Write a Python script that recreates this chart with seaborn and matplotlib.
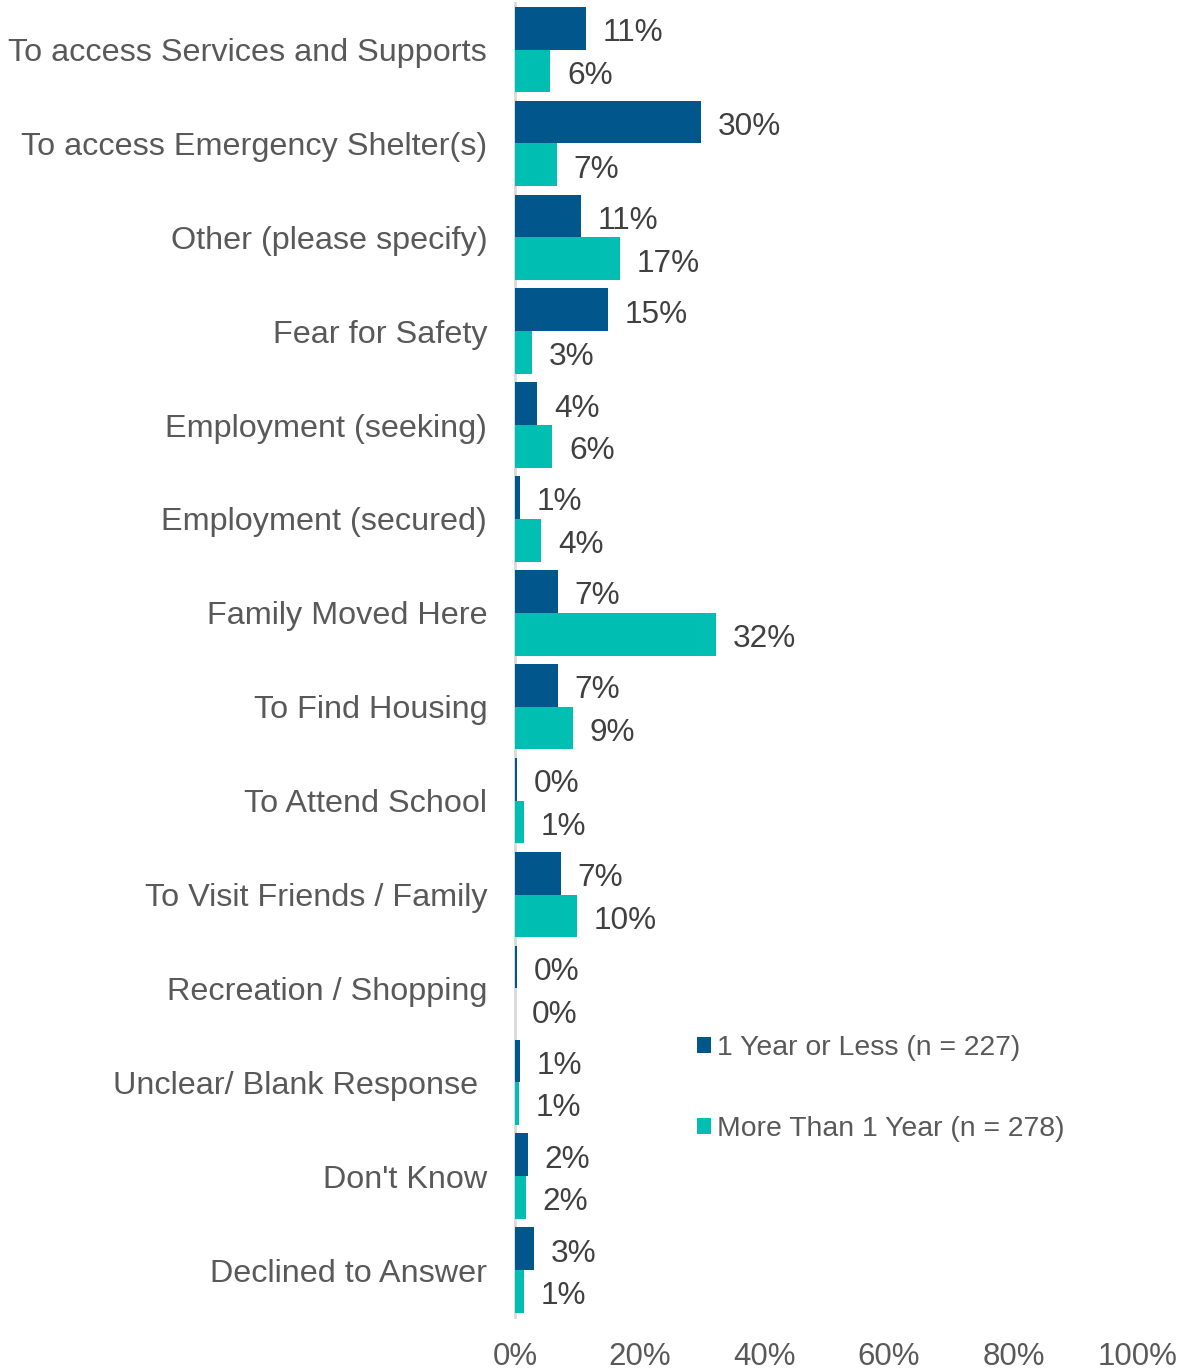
import matplotlib
matplotlib.use("Agg")
import matplotlib.pyplot as plt
import seaborn as sns
import pandas as pd

# Reasons for coming to the community, by length of time in the community
reasons = [
    "To access Services and Supports",
    "To access Emergency Shelter(s)",
    "Other (please specify)",
    "Fear for Safety",
    "Employment (seeking)",
    "Employment (secured)",
    "Family Moved Here",
    "To Find Housing",
    "To Attend School",
    "To Visit Friends / Family",
    "Recreation / Shopping",
    "Unclear/ Blank Response ",
    "Don't Know",
    "Declined to Answer",
]
one_year_or_less = [11.4, 29.9, 10.6, 14.9, 3.6, 0.8, 6.9, 6.9, 0.4, 7.4, 0.4, 0.8, 2.1, 3.0]
more_than_one_year = [5.7, 6.7, 16.8, 2.8, 6.0, 4.2, 32.3, 9.3, 1.4, 10.0, 0.0, 0.6, 1.7, 1.4]
series_names = ["1 Year or Less (n = 227)", "More Than 1 Year (n = 278)"]
x_ticks = [0, 20, 40, 60, 80, 100]

colors = ["#01568C", "#00BFB2"]
label_grey = "#595959"
value_grey = "#404040"

df = pd.DataFrame({
    "reason": reasons * 2,
    "pct": one_year_or_less + more_than_one_year,
    "group": [series_names[0]] * len(reasons) + [series_names[1]] * len(reasons),
})

sns.set_theme(style="white")
plt.rcParams["font.family"] = ["Liberation Sans", "DejaVu Sans"]

fig = plt.figure(figsize=(11.89, 13.72), dpi=100)
ax = fig.add_axes([0.4331, 0.0401, 0.524, 0.958])

sns.barplot(
    data=df, y="reason", x="pct", hue="group", orient="h",
    palette=colors, width=0.91, errorbar=None, ax=ax,
    linewidth=0, saturation=1, zorder=3,
)

for cont in ax.containers:
    texts = ax.bar_label(
        cont,
        labels=[f"{b.get_width():.0f}%" for b in cont],
        padding=12, fontsize=22.7, color=value_grey,
    )
    for t in texts:
        t.xyann = (12, -3.5)

ax.set_xlim(0, 100)
ax.set_xticks(x_ticks)
ax.set_xticklabels([f"{t}%" for t in x_ticks])
ax.set_xlabel("")
ax.set_ylabel("")
ax.tick_params(axis="x", length=0, pad=18, labelsize=22.5, labelcolor=label_grey)
ax.tick_params(axis="y", length=0, pad=20, labelsize=23.3, labelcolor=label_grey)

for side in ["top", "right", "bottom"]:
    ax.spines[side].set_visible(False)
ax.spines["left"].set_color("#D9D9D9")
ax.spines["left"].set_linewidth(2)
ax.spines["left"].set_zorder(1)
ax.grid(False)

handles, labels = ax.get_legend_handles_labels()
ax.get_legend().remove()
fig.legend(
    handles, labels, loc="center left", bbox_to_anchor=(0.5862, 0.2065),
    frameon=False, fontsize=20.4, labelcolor=label_grey,
    handlelength=0.5, handleheight=0.5, handletextpad=0.2,
    labelspacing=1.92, borderpad=0, borderaxespad=0,
)

fig.savefig("out.png", dpi=100, facecolor="white")
